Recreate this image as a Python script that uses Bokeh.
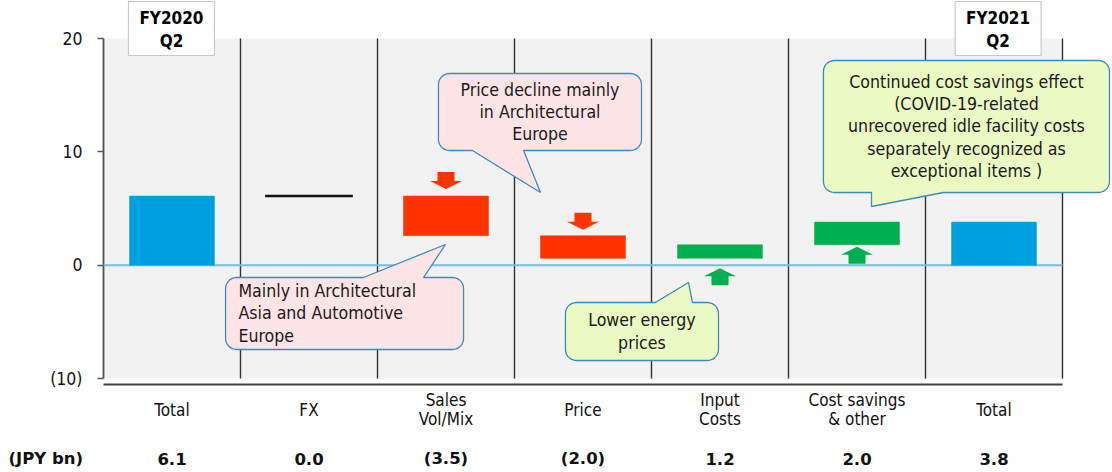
import numpy as np
from bokeh.plotting import figure
from bokeh.models import Range1d, FixedTicker
from bokeh.core.properties import value
from bokeh.embed import file_html
from bokeh.resources import INLINE

# ---- data -----------------------------------------------------------------
categories = ["Total", "FX", "Sales\nVol/Mix", "Price", "Input\nCosts",
              "Cost savings\n& other", "Total"]
values = [6.1, 0.0, -3.5, -2.0, 1.2, 2.0, 3.8]
value_labels = ["6.1", "0.0", "(3.5)", "(2.0)", "1.2", "2.0", "3.8"]
is_total = [True, False, False, False, False, False, True]
y_ticks = [-10, 0, 10, 20]
y_tick_labels = ["(10)", "0", "10", "20"]
period_labels = ["FY2020\nQ2", "FY2021\nQ2"]
unit_label = "(JPY bn)"
callout_texts = [
    "Mainly in Architectural\nAsia and Automotive\nEurope",
    "Price decline mainly\nin Architectural\nEurope",
    "Lower energy\nprices",
    "Continued cost savings effect\n(COVID-19-related\nunrecovered idle facility costs\n"
    "separately recognized as\nexceptional items )",
]

# ---- styling / geometry ----------------------------------------------------
FONT = "DejaVu Sans Condensed"
BOLD_FONT = "DejaVu Sans"
W, H = 1112, 472
Y_MIN, Y_MAX = -10, 20
PX_X = 137.0                 # pixels per category
PX_Y = 340.0 / 30.0          # pixels per JPY bn
ORIGIN_PX = 103              # screen x of the y axis
TOP_PX = 38                  # screen y of Y_MAX
ZERO_PY = TOP_PX + Y_MAX * PX_Y

BLUE, RED, GREEN = "#009FDF", "#FF3300", "#00B050"
PINK_FILL, LIME_FILL = "#FFE4E6", "#EBF9C2"
CALLOUT_LINE = "#3A8CC0"
BAR_W = 0.62

n = len(categories)
centers = np.arange(n) + 0.5

# waterfall extents
bottoms, tops, colors = [], [], []
running = 0.0
for v, tot in zip(values, is_total):
    if tot:
        b, t, c = 0.0, v, BLUE
        running = v
    else:
        b, t = min(running, running + v), max(running, running + v)
        c = GREEN if v > 0 else RED
        running += v
    bottoms.append(b)
    tops.append(t)
    colors.append(c)

# the frame fills the whole canvas; the y axis is pinned at x = 0
x_range = Range1d(-ORIGIN_PX / PX_X, (W - ORIGIN_PX) / PX_X)
y_range = Range1d((ZERO_PY - H) / PX_Y, ZERO_PY / PX_Y)

p = figure(width=W, height=H, x_range=x_range, y_range=y_range,
           output_backend="svg", toolbar_location=None, x_axis_location=None,
           min_border_left=0, min_border_right=0,
           min_border_top=0, min_border_bottom=0,
           background_fill_color="white", border_fill_color="white",
           outline_line_color=None)
p.grid.visible = False

yax = p.yaxis[0]
yax.fixed_location = 0
yax.ticker = FixedTicker(ticks=y_ticks, minor_ticks=[])
yax.major_label_overrides = {t: s for t, s in zip(y_ticks, y_tick_labels)}
yax.axis_line_color = None
yax.major_tick_out = 6
yax.major_tick_in = 0
yax.major_tick_line_color = "#595959"
yax.major_tick_line_width = 1.5
yax.minor_tick_line_color = None
yax.major_label_standoff = 15
yax.major_label_text_font = FONT
yax.major_label_text_font_size = "17.5px"
yax.major_label_text_color = "#111111"

# plot background and frame lines
p.quad(left=[0], right=[n], bottom=[Y_MIN], top=[Y_MAX],
       fill_color="#F2F2F2", line_color=None)
seps = list(range(1, n + 1))
p.segment(x0=seps, y0=[Y_MIN] * n, x1=seps, y1=[Y_MAX] * n,
          line_color="#333333", line_width=1.4)
p.segment(x0=[0], y0=[Y_MIN], x1=[0], y1=[Y_MAX],
          line_color="#505050", line_width=1.8)
x_axis_y = Y_MIN - 6 / PX_Y
p.segment(x0=[0], y0=[x_axis_y], x1=[n], y1=[x_axis_y],
          line_color="#404040", line_width=1.8)
p.segment(x0=[0], y0=[0], x1=[n], y1=[0], line_color="#72BFE6", line_width=2)

# bars (zero steps drawn as a flat level line)
bar_idx = [i for i in range(n) if tops[i] != bottoms[i]]
p.vbar(x=[centers[i] for i in bar_idx], width=BAR_W,
       bottom=[bottoms[i] for i in bar_idx], top=[tops[i] for i in bar_idx],
       fill_color=[colors[i] for i in bar_idx],
       line_color=[colors[i] for i in bar_idx], line_width=0.5)
flat_idx = [i for i in range(n) if tops[i] == bottoms[i]]
p.segment(x0=[centers[i] - 0.32 for i in flat_idx], y0=[tops[i] for i in flat_idx],
          x1=[centers[i] + 0.32 for i in flat_idx], y1=[tops[i] for i in flat_idx],
          line_color="#111111", line_width=2.5)

# direction arrows next to each step bar (gap in px)
arrow_gap = {2: 7, 3: 6, 4: 10, 5: 2}
arrow_shape = [(0, 0), (16, 8), (8.5, 8), (8.5, 17), (-8.5, 17), (-8.5, 8), (-16, 8)]
axs, ays, acs = [], [], []
for i, gap in arrow_gap.items():
    if values[i] < 0:      # above the bar, pointing down
        tip = tops[i] + gap / PX_Y
        sgn = 1
    else:                  # below the bar, pointing up
        tip = bottoms[i] - gap / PX_Y
        sgn = -1
    axs.append([centers[i] + dx / PX_X for dx, dy in arrow_shape])
    ays.append([tip + sgn * dy / PX_Y for dx, dy in arrow_shape])
    acs.append(colors[i])
p.patches(xs=axs, ys=ays, fill_color=acs, line_color=None)


def callout(x0, x1, y0, y1, side, base, tip, r=11):
    """Rounded box (data units) with a wedge pointer on the top or bottom edge."""
    rx, ry = r / PX_X, r / PX_Y
    xs, ys = [], []

    def arc(cx, cy, a0, a1):
        for a in np.linspace(np.radians(a0), np.radians(a1), 8):
            xs.append(cx + rx * np.cos(a))
            ys.append(cy + ry * np.sin(a))

    # bottom edge, left to right
    xs.append(x0 + rx); ys.append(y0)
    if side == "bottom":
        xs += [base[0], tip[0], base[1]]; ys += [y0, tip[1], y0]
    xs.append(x1 - rx); ys.append(y0)
    arc(x1 - rx, y0 + ry, -90, 0)
    arc(x1 - rx, y1 - ry, 0, 90)
    if side == "top":
        xs += [base[1], tip[0], base[0]]; ys += [y1, tip[1], y1]
    arc(x0 + rx, y1 - ry, 90, 180)
    arc(x0 + rx, y0 + ry, 180, 270)
    return xs, ys


# callout layout: box (x0, x1, y0, y1), pointer side, base xs, tip, text anchor
callouts = [
    dict(box=(0.891, 2.628, -7.441, -1.088), side="top", base=(1.898, 2.336),
         tip=(2.496, 1.824), fill=PINK_FILL, tx=0.985, align="left"),
    dict(box=(2.445, 3.927, 10.118, 16.91), side="bottom", base=(2.693, 3.066),
         tip=(3.190, 6.412), fill=PINK_FILL, tx=3.186, align="center"),
    dict(box=(3.372, 4.489, -8.412, -3.294), side="top", base=(4.029, 4.299),
         tip=(4.270, -1.529), fill=LIME_FILL, tx=3.930, align="center"),
    dict(box=(5.255, 7.343, 6.412, 18.06), side="bottom", base=(5.606, 6.131),
         tip=(5.606, 5.177), fill=LIME_FILL, tx=6.299, align="center"),
]
LINE_STEP = 22.2 / PX_Y
for c, txt in zip(callouts, callout_texts):
    x0, x1, y0, y1 = c["box"]
    xs, ys = callout(x0, x1, y0, y1, c["side"], c["base"], c["tip"])
    p.patch(xs, ys, fill_color=c["fill"], line_color=CALLOUT_LINE, line_width=1.3)
    lines = txt.split("\n")
    mid = (y0 + y1) / 2
    ly = [mid + (len(lines) - 1) / 2 * LINE_STEP - k * LINE_STEP for k in range(len(lines))]
    p.text(x=[c["tx"]] * len(lines), y=ly, text=lines, text_font=value(FONT),
           text_font_size="17.6px", text_align=c["align"], text_baseline="middle",
           text_color="#1A1A1A")

# period header boxes above the two totals
hx = [0.496, 6.53]
hw = 43 / PX_X
h_top, h_bot = (ZERO_PY - 1) / PX_Y, (ZERO_PY - 55) / PX_Y
p.quad(left=[x - hw for x in hx], right=[x + hw for x in hx],
       bottom=[h_bot] * 2, top=[h_top] * 2, fill_color="white",
       line_color="#C8C8C8", line_width=1.2)
for x, lab in zip(hx, period_labels):
    l1, l2 = lab.split("\n")
    p.text(x=[x, x], y=[(ZERO_PY - 17) / PX_Y, (ZERO_PY - 40) / PX_Y], text=[l1, l2],
           text_font=value(FONT), text_font_size="17px", text_font_style="bold",
           text_align="center", text_baseline="middle", text_color="#000000")

# category labels and value row beneath the axis
cat_x, cat_y, cat_t = [], [], []
for c, lab in zip(centers, categories):
    parts = lab.split("\n")
    if len(parts) == 1:
        cat_x.append(c); cat_y.append((ZERO_PY - 409) / PX_Y); cat_t.append(parts[0])
    else:
        cat_x += [c, c]
        cat_y += [(ZERO_PY - 399) / PX_Y, (ZERO_PY - 418) / PX_Y]
        cat_t += parts
p.text(x=cat_x, y=cat_y, text=cat_t, text_font=value(FONT), text_font_size="17px",
       text_align="center", text_baseline="middle", text_color="#111111")

val_y = (ZERO_PY - 458) / PX_Y
p.text(x=list(centers), y=[val_y] * n, text=value_labels, text_font=value(BOLD_FONT),
       text_font_size="16.5px", text_font_style="bold", text_align="center",
       text_baseline="middle", text_color="#111111")
p.text(x=[(8 - ORIGIN_PX) / PX_X], y=[val_y], text=[unit_label],
       text_font=value(BOLD_FONT), text_font_size="16.5px", text_font_style="bold",
       text_align="left", text_baseline="middle", text_color="#111111")

open("out.html", "w").write(file_html(p, INLINE))
